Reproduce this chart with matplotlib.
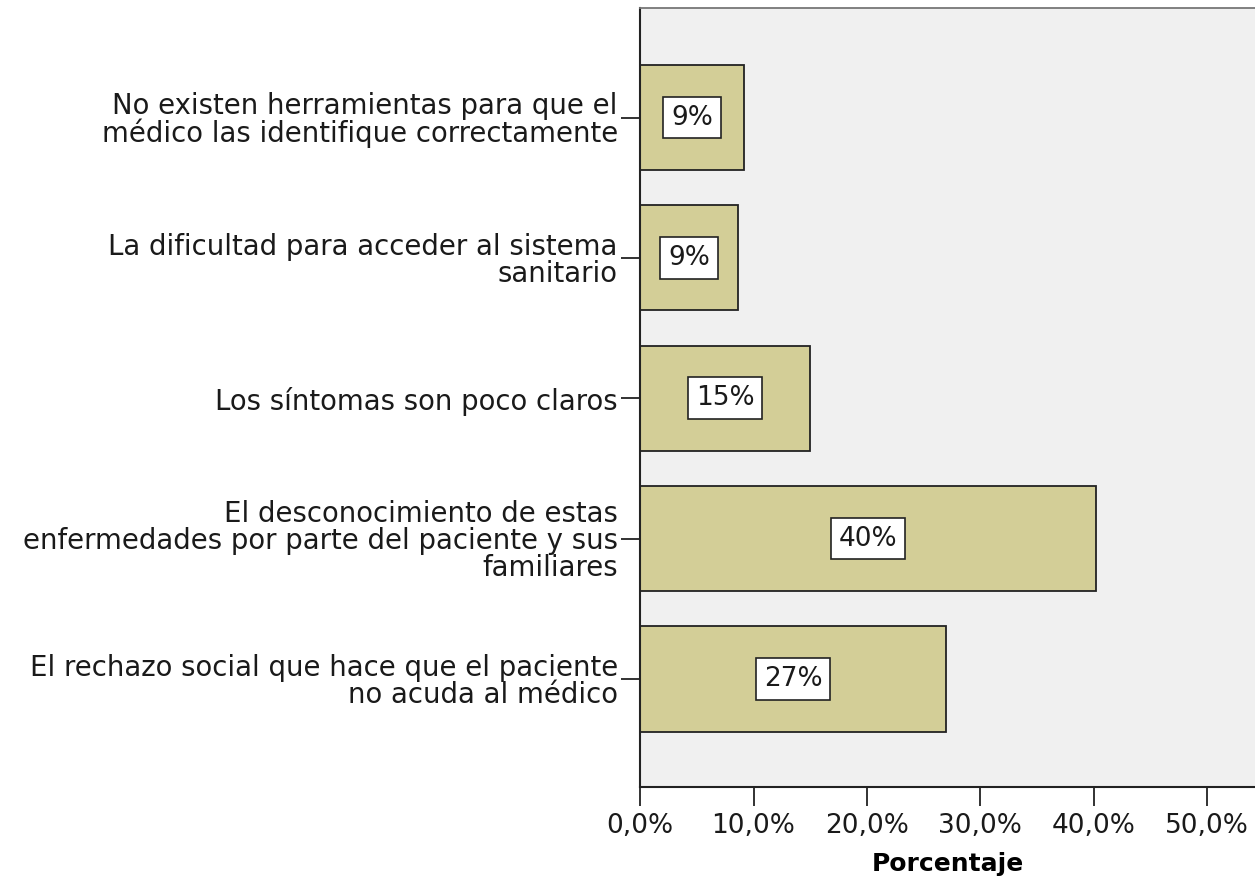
import numpy as np
import matplotlib.pyplot as plt

plt.rcParams['font.family'] = ['DejaVu Sans']

categorias = [
    "No existen herramientas para que el\nmédico las identifique correctamente",
    "La dificultad para acceder al sistema\nsanitario",
    "Los síntomas son poco claros",
    "El desconocimiento de estas\nenfermedades por parte del paciente y sus\nfamiliares",
    "El rechazo social que hace que el paciente\nno acuda al médico",
]
porcentajes = [9.2, 8.6, 15.0, 40.2, 27.0]
etiquetas = ["9%", "9%", "15%", "40%", "27%"]
xticks = [0, 10, 20, 30, 40, 50]
xticklabels = ["0,0%", "10,0%", "20,0%", "30,0%", "40,0%", "50,0%"]

fig = plt.figure(figsize=(12.55, 8.92), dpi=100)
ax = fig.add_axes([0.51, 0.1177, 0.49, 0.8733])
ax.set_facecolor('#f0f0f0')

y = np.arange(len(categorias))
ax.barh(y, porcentajes, height=0.75, color='#d3ce97', edgecolor='#222222', linewidth=1.3, zorder=2)

for yi, v, t in zip(y, porcentajes, etiquetas):
    ax.text(v / 2, yi, t, ha='center', va='center', fontsize=19, color='#1a1a1a', zorder=3,
            bbox=dict(boxstyle='square,pad=0.3', facecolor='white', edgecolor='#222222', linewidth=1.2))

ax.set_ylim(4.77, -0.78)
ax.set_xlim(0, 54.2)
ax.set_yticks(y)
ax.set_yticklabels(categorias, fontsize=19.8, linespacing=0.95, color='#1a1a1a')
ax.set_xticks(xticks)
ax.set_xticklabels(xticklabels, fontsize=19, color='#1a1a1a')
ax.tick_params(axis='y', length=14, width=1.3, color='#222222', pad=2)
ax.tick_params(axis='x', length=14, width=1.3, color='#222222', pad=5)
ax.set_xlabel("Porcentaje", fontsize=18, fontweight='bold', labelpad=9)

for s in ['left', 'bottom']:
    ax.spines[s].set_color('#222222')
    ax.spines[s].set_linewidth(1.5)
ax.spines['top'].set_color('#777777')
ax.spines['top'].set_linewidth(1.3)
ax.spines['right'].set_visible(False)

fig.savefig('out.png', dpi=100)
